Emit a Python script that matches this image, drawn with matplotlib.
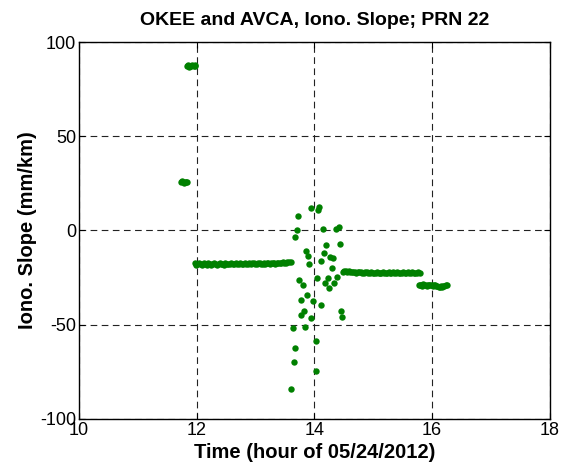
import matplotlib
matplotlib.use('Agg')
import matplotlib.pyplot as plt

plt.rcParams['axes.unicode_minus'] = False

# early clusters
c1_time = [11.83, 11.85, 11.87, 11.89, 11.91, 11.93, 11.95, 11.97, 11.98]
c1_slope = [87.2, 87.7, 86.9, 87.5, 87.1, 87.8, 87.3, 87.6, 87.2]
c2_time = [11.74, 11.76, 11.78, 11.80, 11.82, 11.84]
c2_slope = [25.6, 26.2, 25.3, 25.9, 25.5, 25.8]

# first steady segment
s1_time = [11.97, 11.99, 12.02, 12.04, 12.07, 12.09, 12.12, 12.14, 12.17, 12.19,
           12.22, 12.24, 12.27, 12.29, 12.32, 12.34, 12.37, 12.39, 12.42, 12.44,
           12.47, 12.49, 12.52, 12.54, 12.57, 12.59, 12.62, 12.64, 12.67, 12.69,
           12.72, 12.74, 12.77, 12.79, 12.82, 12.84, 12.87, 12.89, 12.92, 12.94,
           12.97, 12.99, 13.02, 13.04, 13.07, 13.09, 13.12, 13.14, 13.17, 13.19,
           13.22, 13.24, 13.27, 13.29, 13.32, 13.34, 13.37, 13.39, 13.42, 13.44,
           13.47, 13.49, 13.52, 13.54, 13.57, 13.61]
s1_slope = [-17.4, -18.2, -18.0, -17.3, -17.9, -18.3, -17.5, -17.9, -18.1, -17.4,
            -17.7, -18.2, -17.9, -17.4, -17.6, -18.1, -17.8, -17.3, -17.7, -18.0,
            -18.1, -17.5, -17.6, -18.0, -17.8, -17.3, -17.9, -17.6, -17.3, -17.9,
            -17.7, -17.4, -18.0, -17.6, -17.5, -17.9, -17.7, -17.3, -17.9, -17.5,
            -17.3, -17.8, -17.6, -17.2, -17.4, -17.8, -17.6, -17.2, -17.8, -17.4,
            -17.2, -17.6, -17.5, -17.1, -17.3, -17.6, -17.5, -17.1, -17.4, -17.2,
            -16.9, -17.3, -17.2, -16.8, -17.0, -16.9]

# scattered points around 14 h
sc_time = [13.94, 14.08, 14.07, 13.73, 13.70, 13.68, 14.15, 14.36, 14.42, 14.44,
           14.20, 13.85, 13.90, 14.16, 14.27, 14.31, 14.12, 13.91, 14.30, 13.74,
           13.80, 14.04, 14.23, 14.38, 14.18, 14.33, 14.25, 13.88, 13.78, 13.98,
           14.11, 13.82, 13.77, 13.95, 14.46, 14.47, 13.63, 13.84, 14.03, 13.67,
           13.65, 14.02, 13.61]
sc_slope = [12.1, 12.6, 10.9, 7.8, 0.1, -3.4, 0.6, 1.0, 2.0, -7.3,
            -7.9, -10.7, -13.5, -12.1, -13.9, -14.4, -16.2, -17.9, -19.9, -26.4,
            -29.0, -25.3, -25.3, -24.8, -28.0, -27.7, -30.5, -34.4, -36.8, -37.2,
            -39.3, -42.5, -44.6, -46.2, -42.5, -45.8, -51.8, -51.3, -58.4, -62.3,
            -69.7, -74.8, -84.2]

# second steady segment
s2_time = [14.49, 14.51, 14.54, 14.56, 14.59, 14.61, 14.64, 14.66, 14.69, 14.71,
           14.74, 14.76, 14.79, 14.81, 14.84, 14.86, 14.89, 14.91, 14.94, 14.96,
           14.99, 15.01, 15.04, 15.06, 15.09, 15.11, 15.14, 15.16, 15.19, 15.21,
           15.24, 15.26, 15.29, 15.31, 15.34, 15.36, 15.39, 15.41, 15.44, 15.46,
           15.49, 15.51, 15.54, 15.56, 15.59, 15.61, 15.64, 15.66, 15.69, 15.71,
           15.74, 15.76, 15.79]
s2_slope = [-22.2, -21.7, -21.4, -21.9, -21.6, -22.1, -22.2, -21.8, -21.9, -22.4,
            -22.3, -21.9, -22.1, -22.6, -22.5, -22.1, -22.3, -22.7, -22.6, -22.2,
            -22.4, -22.8, -22.7, -22.3, -22.5, -22.8, -22.7, -22.3, -22.6, -22.8,
            -22.4, -22.2, -22.7, -22.5, -22.3, -22.7, -22.5, -22.2, -22.4, -22.7,
            -22.4, -22.2, -22.7, -22.5, -22.3, -22.6, -22.4, -22.1, -22.4, -22.6,
            -22.7, -22.3, -22.4]

# third segment
s3_time = [15.77, 15.79, 15.81, 15.83, 15.85, 15.87, 15.89, 15.91, 15.93, 15.95,
           15.97, 15.99, 16.01, 16.03, 16.05, 16.07, 16.09, 16.11, 16.13, 16.15,
           16.17, 16.19, 16.21, 16.23, 16.25]
s3_slope = [-28.7, -29.2, -28.9, -29.3, -28.6, -29.1, -28.8, -29.3, -28.7, -29.0,
            -29.2, -28.8, -29.4, -29.0, -29.2, -29.7, -29.5, -29.9, -30.1, -29.6,
            -29.8, -29.3, -29.5, -29.0, -29.2]

color = '#008000'
fontname = 'Liberation Sans'

fig = plt.figure(figsize=(5.71, 4.67), dpi=100)
ax = fig.add_axes([0.138, 0.103, 0.825, 0.807])

for t, s in [(c1_time, c1_slope), (c2_time, c2_slope), (s1_time, s1_slope),
             (sc_time, sc_slope), (s2_time, s2_slope), (s3_time, s3_slope)]:
    ax.plot(t, s, 'o', color=color, markersize=4.6, markeredgewidth=0)

ax.set_xlim(10, 18)
ax.set_ylim(-100, 100)
ax.set_xticks([10, 12, 14, 16, 18])
ax.set_yticks([-100, -50, 0, 50, 100])

ax.grid(True, color='#222222', linestyle=(0, (6, 4)), linewidth=0.8)
ax.tick_params(direction='in', top=True, right=True, length=4, width=0.8,
               labelsize=13, pad=2)
for lab in ax.get_xticklabels() + ax.get_yticklabels():
    lab.set_fontfamily(fontname)
for sp in ax.spines.values():
    sp.set_linewidth(1.0)

ax.set_title('OKEE and AVCA, Iono. Slope; PRN 22', fontfamily=fontname,
             fontweight='bold', fontsize=14, pad=12)
ax.set_xlabel('Time (hour of 05/24/2012)', fontfamily=fontname,
              fontweight='bold', fontsize=14.5, labelpad=3)
ax.set_ylabel('Iono. Slope (mm/km)', fontfamily=fontname,
              fontweight='bold', fontsize=14.5, labelpad=2)

fig.savefig('out.png', dpi=100)
